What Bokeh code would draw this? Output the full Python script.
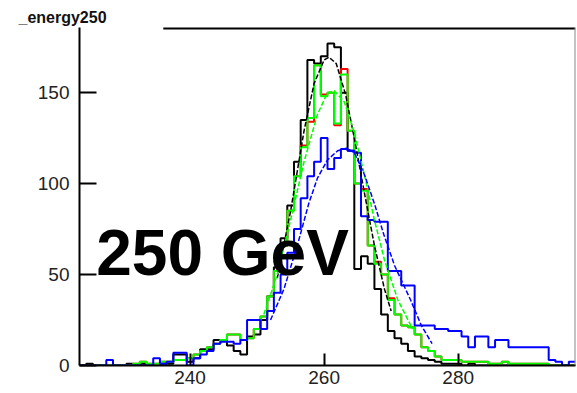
from bokeh.plotting import figure
from bokeh.models import Range1d, FixedTicker, Label, Span
from bokeh.embed import file_html
from bokeh.resources import INLINE

# 1 GeV bins, centres 224 .. 297
bin_centers = list(range(224, 298))

black_counts = [
    0, 1, 0, 0, 0, 0, 0, 1, 0, 1,        # 224-233
    0, 0, 1, 1, 6, 6, 2, 4, 9, 9,        # 234-243
    14, 14, 11, 8, 6, 16, 17, 25, 38, 54,  # 244-253
    70, 88, 112, 135, 168, 166, 170, 177, 175, 150,  # 254-263
    118, 53, 60, 56, 42, 28, 19, 15, 12, 8,  # 264-273
    5, 4, 3, 2, 1, 1, 1, 0, 1, 0,        # 274-283
    0, 0, 0, 0, 0, 0, 0, 0, 0, 0,        # 284-293
    0, 0, 0, 0,                          # 294-297
]

green_counts = [
    0, 0, 0, 0, 0, 0, 0, 0, 1, 2,        # 224-233
    1, 1, 2, 2, 3, 3, 4, 6, 8, 10,       # 234-243
    12, 14, 17, 17, 14, 15, 20, 27, 38, 52,  # 244-253
    66, 85, 104, 120, 136, 165, 148, 150, 133, 160,  # 254-263
    129, 100, 96, 66, 56, 50, 36, 28, 22, 21,  # 264-273
    17, 10, 8, 5, 3, 3, 3, 2, 2, 2,      # 274-283
    2, 1, 1, 2, 1, 1, 1, 1, 1, 1,        # 284-293
    0, 0, 0, 0,                          # 294-297
]

red_counts = [
    0, 0, 0, 0, 0, 0, 0, 0, 1, 2,
    1, 1, 2, 2, 3, 3, 4, 6, 8, 10,
    12, 14, 17, 17, 14, 15, 20, 27, 38, 52,
    66, 85, 104, 121, 134, 165, 149, 150, 132, 163,
    129, 100, 97, 66, 57, 50, 37, 28, 22, 21,
    17, 10, 8, 5, 3, 3, 3, 2, 2, 2,
    2, 1, 1, 2, 1, 1, 1, 1, 1, 1,
    0, 0, 0, 0,
]

blue_counts = [
    0, 0, 0, 0, 3, 0, 0, 0, 0, 0,        # 224-233
    0, 4, 1, 2, 7, 7, 0, 4, 6, 8,        # 234-243
    12, 13, 13, 12, 14, 25, 25, 20, 30, 40,  # 244-253
    50, 62, 75, 92, 104, 112, 125, 108, 114, 119,  # 254-263
    118, 117, 82, 80, 79, 79, 52, 52, 44, 44,  # 264-273
    22, 22, 22, 20, 20, 19, 19, 16, 10, 16,  # 274-283
    16, 10, 14, 14, 10, 10, 10, 10, 10, 10,  # 284-293
    3, 2, 0, 2,                          # 294-297
]

# fitted curves, sampled points (x in GeV, y in entries)
black_fit_x = [253.0, 255.0, 257.0, 258.5, 260.0, 260.7, 261.8, 263.2, 264.5, 266.0, 267.5, 269.0, 270.0]
black_fit_y = [48, 85, 129, 155, 168, 169.5, 166, 149, 125, 95, 66, 42, 30]

green_fit_x = [251.0, 253.0, 255.0, 257.0, 259.0, 260.5, 261.5, 263.0, 264.5, 266.0, 267.5, 269.0, 271.0, 273.2]
green_fit_y = [28, 50, 80, 112, 138, 150, 151, 145, 128, 105, 80, 58, 36, 20]

blue_fit_x = [252.0, 254.0, 256.0, 257.7, 259.0, 260.5, 262.0, 263.3, 264.5, 266.0, 267.5, 268.9, 270.5, 272.9, 274.5, 276.1]
blue_fit_y = [25, 42, 66, 89, 103, 113, 118, 119.5, 117, 105, 89, 72, 55, 36, 22, 12]

x_ticks = [240, 260, 280]
y_ticks = [0, 50, 100, 150]

XMIN, XMAX = 223.5, 297.5
YMAX = 185.8

p = figure(width=577, height=393, output_backend="svg", toolbar_location=None,
           x_range=Range1d(XMIN, XMAX), y_range=Range1d(0, YMAX),
           min_border_left=79, min_border_right=2, min_border_top=27, min_border_bottom=28)
p.xgrid.visible = False
p.ygrid.visible = False
p.outline_line_color = None
p.background_fill_color = "white"
p.border_fill_color = "white"

p.title.text = "_energy250"
p.title.align = "left"
p.title.offset = -61
p.title.standoff = 4
p.title.text_font = "Liberation Sans"
p.title.text_font_size = "16px"
p.title.text_font_style = "bold"
p.title.text_color = "#111111"

for ax, ticks, tick_in in ((p.xaxis, x_ticks, 12), (p.yaxis, y_ticks, 17)):
    ax.ticker = FixedTicker(ticks=ticks)
    ax.minor_tick_line_color = None
    ax.major_tick_in = tick_in
    ax.major_tick_out = 0
    ax.axis_line_color = "black"
    ax.axis_line_width = 2
    ax.major_tick_line_color = "black"
    ax.major_tick_line_width = 2
    ax.major_label_text_font = "Liberation Sans"
    ax.major_label_text_font_size = "19px"
    ax.major_label_text_color = "#222222"
p.xaxis.major_label_standoff = 5
p.yaxis.major_label_standoff = 10

# upper and right frame edges
p.segment(x0=[236.0], y0=[YMAX], x1=[XMAX], y1=[YMAX], line_color="black", line_width=4)
p.add_layout(Span(location=XMAX, dimension="height", line_color="#888888", line_width=2))


def draw_hist(counts, color, width=2):
    edges = [c - 0.5 for c in bin_centers] + [bin_centers[-1] + 0.5]
    ys = list(counts) + [counts[-1]]
    p.step(edges, ys, mode="after", line_color=color, line_width=width)


draw_hist(black_counts, "black")
draw_hist(red_counts, "#ff0000")
draw_hist(green_counts, "#00ff00")
draw_hist(blue_counts, "#0000ff")

p.line(black_fit_x, black_fit_y, line_color="black", line_width=1.5, line_dash="5 2")
p.line(green_fit_x, green_fit_y, line_color="#00ff00", line_width=1.5, line_dash="5 2")
p.line(blue_fit_x, blue_fit_y, line_color="#0000ff", line_width=1.5, line_dash="5 2")

p.add_layout(Label(x=226.0, y=62, text="250 GeV", text_font="Liberation Sans",
                   text_font_size="64px", text_font_style="bold", text_color="black",
                   text_baseline="alphabetic"))

open("out.html", "w").write(file_html(p, INLINE))
